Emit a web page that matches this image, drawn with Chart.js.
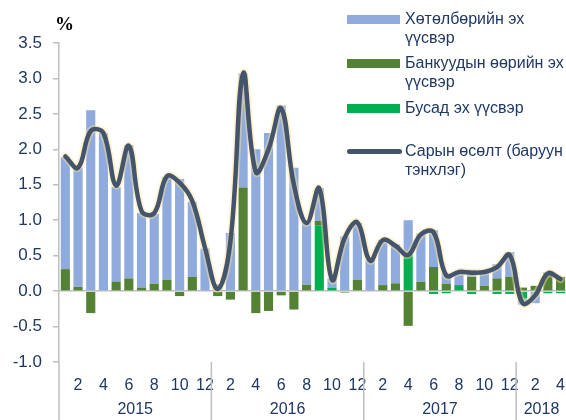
<!DOCTYPE html>
<html>
<head>
<meta charset="utf-8">
<script src="https://cdn.jsdelivr.net/npm/chart.js@4/dist/chart.umd.min.js"></script>
<style>
  html, body { margin: 0; padding: 0; background: #fff; }
  #wrap { position: relative; width: 566px; height: 420px; overflow: hidden; font-family: "Liberation Sans", Arial, sans-serif; }
  #c { position: absolute; left: 0; top: 0; }
  #pct { position: absolute; left: 55px; top: 13px; font: bold 19px "Liberation Serif", "Times New Roman", serif; color: #000; }
  .lg { position: absolute; left: 347px; color: #1F3864; font-size: 16px; line-height: 19px; }
  .sw { position: absolute; left: 0; width: 53px; height: 9px; }
  .tx { position: absolute; left: 58px; white-space: nowrap; }
</style>
</head>
<body>
<div id="wrap">
  <canvas id="c" width="571" height="420"></canvas>
  <div id="pct">%</div>
  <div id="legend"></div>
</div>
<script>
// Categories: months Jan 2015 .. Apr 2018
const years = ['2015', '2016', '2017', '2018'];
const monthsPerYear = [12, 12, 12, 4];
const months = ['1','2','3','4','5','6','7','8','9','10','11','12',
                '1','2','3','4','5','6','7','8','9','10','11','12',
                '1','2','3','4','5','6','7','8','9','10','11','12',
                '1','2','3','4'];

// Series names
const seriesNames = [
  ['Хөтөлбөрийн эх', 'үүсвэр'],
  ['Банкуудын өөрийн эх', 'үүсвэр'],
  ['Бусад эх үүсвэр'],
  ['Сарын өсөлт (баруун', 'тэнхлэг)']
];

// Хөтөлбөрийн эх үүсвэр
const programme = [1.58, 1.68, 2.55, 2.23, 1.34, 1.88, 1.05, 0.99, 1.45, 1.58, 1.06, 0.60,
                   0.10, 0.82, 1.61, 2.00, 2.23, 2.62, 1.74, 0.89, 0.46, 0.13, 0.77, 0.80,
                   0.44, 0.64, 0.55, 0.48, 0.68, 0.52, 0.15, 0.19, 0.10, 0.20, 0.20, 0.35,
                   -0.09, -0.17, 0.02, 0.00];
// Банкуудын өөрийн эх үүсвэр
const banks = [0.31, 0.06, -0.31, 0.00, 0.13, 0.18, 0.05, 0.10, 0.16, -0.07, 0.20, 0.00,
               -0.07, -0.12, 1.46, -0.31, -0.28, -0.06, -0.26, 0.09, 0.06, 0.00, -0.02, 0.16,
               0.00, 0.085, 0.11, -0.49, 0.13, 0.34, 0.10, 0.00, 0.20, 0.075, 0.18, 0.20,
               0.05, 0.075, 0.25, 0.20];
// Бусад эх үүсвэр
const other = [0, 0, 0, -0.01, 0, 0, 0, 0, 0, 0, 0, -0.01,
               0, 0, 0, 0, 0, 0, 0, 0, 0.93, 0.05, 0, 0,
               -0.01, 0, 0, 0.52, 0, -0.04, -0.03, 0.085, -0.04, 0, -0.04, -0.04,
               -0.10, 0, -0.03, -0.03];
// Сарын өсөлт
const growth = [1.90, 1.74, 2.26, 2.23, 1.49, 2.05, 1.13, 1.10, 1.62, 1.53, 1.27, 0.61,
                0.03, 0.70, 3.07, 1.68, 2.00, 2.58, 1.50, 0.96, 1.45, 0.16, 0.75, 0.97,
                0.43, 0.72, 0.64, 0.51, 0.80, 0.83, 0.22, 0.27, 0.26, 0.27, 0.34, 0.51,
                -0.17, -0.06, 0.25, 0.17];

const yTicks = { min: -1.0, max: 3.5, step: 0.5 };

const COL_BLUE = '#8FAADC', COL_DARK = '#548235', COL_BRIGHT = '#00B050', COL_LINE = '#44546A';
const NAVY = '#1F3864';

// HTML legend
const legendDefs = [
  { name: seriesNames[0], color: COL_BLUE, top: 14, type: 'bar' },
  { name: seriesNames[1], color: COL_DARK, top: 58, type: 'bar' },
  { name: seriesNames[2], color: COL_BRIGHT, top: 103, type: 'bar' },
  { name: seriesNames[3], color: COL_LINE, top: 146, type: 'line' }
];
const lg = document.getElementById('legend');
legendDefs.forEach(d => {
  const el = document.createElement('div');
  el.className = 'lg';
  el.style.top = d.top + 'px';
  const sw = document.createElement('div');
  sw.className = 'sw';
  sw.style.background = d.color;
  if (d.type === 'line') { sw.style.height = '5px'; sw.style.top = '3px'; sw.style.borderRadius = '3px'; sw.style.width = '55px'; }
  else { sw.style.top = '1px'; }
  const tx = document.createElement('div');
  tx.className = 'tx';
  tx.style.top = '-5px';
  tx.innerHTML = d.name.join('<br>');
  el.appendChild(sw); el.appendChild(tx);
  lg.appendChild(el);
});

const yearPlugin = {
  id: 'years',
  afterDraw(chart) {
    const ctx = chart.ctx, xs = chart.scales.x, ca = chart.chartArea;
    ctx.save();
    ctx.strokeStyle = '#BFBFBF';
    ctx.lineWidth = 1.5;
    let start = 0;
    const bounds = [ca.left];
    monthsPerYear.forEach((n, k) => {
      const end = start + n - 1;
      if (k < monthsPerYear.length - 1) {
        bounds.push((xs.getPixelForValue(end) + xs.getPixelForValue(end + 1)) / 2);
      }
      start += n;
    });
    bounds.forEach(bx => {
      ctx.beginPath(); ctx.moveTo(bx, ca.bottom); ctx.lineTo(bx, 420); ctx.stroke();
    });
    ctx.fillStyle = NAVY;
    ctx.font = '16px "Liberation Sans", Arial, sans-serif';
    ctx.textAlign = 'center';
    ctx.textBaseline = 'middle';
    start = 0;
    monthsPerYear.forEach((n, k) => {
      const a = xs.getPixelForValue(start), b = xs.getPixelForValue(start + n - 1);
      ctx.fillText(years[k], (a + b) / 2, 410);
      start += n;
    });
    ctx.restore();
  }
};

new Chart(document.getElementById('c'), {
  type: 'bar',
  data: {
    labels: months,
    datasets: [
      { type: 'line', label: seriesNames[3].join(' '), data: growth, yAxisID: 'y1', borderColor: COL_LINE, borderWidth: 4.5, pointRadius: 0, tension: 0.4, order: 0, borderCapStyle: 'round', borderJoinStyle: 'round' },
      { type: 'line', label: 'glow', data: growth, yAxisID: 'y1', borderColor: 'rgba(255,226,150,0.45)', borderWidth: 8, pointRadius: 0, tension: 0.4, order: 1, borderCapStyle: 'round', borderJoinStyle: 'round' },
      { label: seriesNames[2].join(' '), data: other, backgroundColor: COL_BRIGHT, order: 2 },
      { label: seriesNames[1].join(' '), data: banks, backgroundColor: COL_DARK, order: 2 },
      { label: seriesNames[0].join(' '), data: programme, backgroundColor: COL_BLUE, order: 2 }
    ]
  },
  options: {
    responsive: false,
    animation: false,
    layout: { padding: { top: 43, right: 0, left: 0, bottom: 0 } },
    datasets: { bar: { barPercentage: 0.72, categoryPercentage: 1.0 } },
    plugins: { legend: { display: false }, tooltip: { enabled: false } },
    scales: {
      x: {
        stacked: true,
        grid: { display: false },
        border: { display: false },
        ticks: {
          autoSkip: false, maxRotation: 0, padding: 6,
          color: NAVY, font: { size: 16, family: '"Liberation Sans", Arial, sans-serif' },
          callback: (v, i) => (Number(months[i]) % 2 === 0 ? months[i] : '')
        },
        afterFit: s => { s.height = 58; }
      },
      y: {
        stacked: true,
        min: yTicks.min, max: yTicks.max,
        ticks: {
          stepSize: yTicks.step, padding: 11,
          color: NAVY, font: { size: 17, family: '"Liberation Sans", Arial, sans-serif' },
          callback: v => Number(v).toFixed(1)
        },
        grid: {
          drawOnChartArea: true, tickLength: 6, lineWidth: 1.5,
          color: c => (c.tick && Math.abs(c.tick.value) < 1e-9 ? '#BFBFBF' : 'rgba(0,0,0,0)'),
          tickColor: '#BFBFBF'
        },
        border: { color: '#BFBFBF', width: 1.5 },
        afterFit: s => { s.width = 59; }
      },
      y1: { display: false, min: yTicks.min, max: yTicks.max }
    }
  },
  plugins: [yearPlugin]
});
</script>
</body>
</html>
